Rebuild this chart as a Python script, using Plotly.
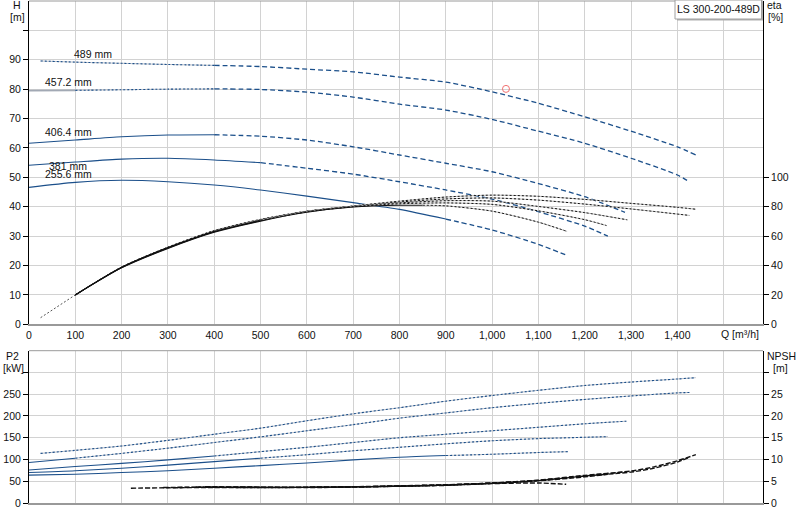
import plotly.graph_objects as go

# ---------------- data ----------------
# Head curves Q [m3/h] -> H [m]
Q_h489 = [25, 100, 200, 300, 400, 500, 600, 700, 800, 900, 1000, 1100, 1200, 1300, 1400, 1440]
H_h489 = [89.6, 89.2, 88.8, 88.4, 88.1, 87.7, 86.8, 85.9, 84.1, 82.4, 79.1, 75.2, 70.6, 65.7, 60.4, 57.6]
Q_h457 = [0, 100, 200, 300, 400, 500, 600, 700, 800, 900, 1000, 1100, 1200, 1300, 1400, 1426]
H_h457 = [79.5, 79.6, 79.8, 80.0, 80.1, 79.9, 79.0, 77.3, 74.9, 72.9, 69.7, 65.7, 61.6, 56.5, 50.8, 48.5]
Q_h406 = [0, 100, 200, 300, 400, 500, 600, 700, 800, 900, 1000, 1100, 1200, 1287]
H_h406 = [61.6, 62.7, 63.8, 64.4, 64.5, 64.0, 62.7, 60.4, 57.6, 54.8, 51.9, 47.9, 43.4, 38.1]
Q_h381 = [0, 100, 200, 300, 400, 500, 600, 700, 800, 900, 1000, 1100, 1200, 1250]
H_h381 = [54.1, 55.2, 56.2, 56.5, 55.9, 55.0, 53.1, 51.1, 48.5, 45.7, 42.6, 38.3, 33.4, 30.0]
Q_h255 = [0, 100, 200, 300, 400, 500, 600, 700, 800, 900, 1000, 1100, 1164]
H_h255 = [46.6, 48.3, 49.0, 48.5, 47.4, 45.7, 43.6, 41.4, 39.1, 35.8, 32.1, 27.2, 23.3]
head_labels = ["489 mm", "457.2 mm", "406.4 mm", "381 mm", "255.6 mm"]

# Efficiency curves Q -> eta [%]
Q_eta_start = [25, 100]
eta_start = [4.5, 20]
Q_e489 = [100, 200, 300, 400, 500, 600, 700, 800, 900, 1000, 1100, 1200, 1300, 1400, 1440]
E_e489 = [20, 39.0, 52.5, 63.8, 71.4, 77.0, 80.5, 83.8, 86.6, 87.9, 87.1, 85.0, 82.3, 79.6, 78.3]
Q_e457 = [100, 200, 300, 400, 500, 600, 700, 800, 900, 1000, 1100, 1200, 1300, 1426]
E_e457 = [20, 38.9, 52.4, 63.6, 71.2, 76.9, 80.4, 83.2, 85.3, 86.0, 84.5, 81.8, 78.5, 74.1]
Q_e406 = [100, 200, 300, 400, 500, 600, 700, 800, 900, 1000, 1100, 1200, 1292]
E_e406 = [20, 38.8, 52.2, 63.3, 70.9, 76.7, 80.2, 82.6, 84.1, 83.8, 80.2, 76.0, 71.1]
Q_e381 = [100, 200, 300, 400, 500, 600, 700, 800, 900, 1000, 1100, 1200, 1247]
E_e381 = [20, 38.6, 51.9, 63.0, 70.6, 76.5, 80.0, 82.0, 82.6, 81.6, 77.2, 71.2, 67.2]
Q_e255 = [100, 200, 300, 400, 500, 600, 700, 800, 850, 900, 1000, 1100, 1162]
E_e255 = [20, 38.4, 51.6, 62.6, 70.2, 76.2, 79.8, 81.0, 81.0, 80.6, 77.0, 69.5, 63.2]

# Power curves Q -> P2 [kW]
Q_p489 = [25, 100, 200, 300, 400, 500, 600, 700, 800, 900, 1000, 1100, 1200, 1300, 1400, 1440]
P_p489 = [114, 121, 131, 144, 158, 172, 189, 205, 219, 234, 247, 259, 270, 278, 285, 288]
Q_p457 = [0, 100, 200, 300, 400, 500, 600, 700, 800, 900, 1000, 1100, 1200, 1300, 1400, 1426]
P_p457 = [93, 103, 114, 126, 139, 152, 166, 180, 195, 207, 219, 229, 238, 246, 253, 254]
Q_p406 = [0, 100, 200, 300, 400, 500, 600, 700, 800, 900, 1000, 1100, 1200, 1290]
P_p406 = [76, 84, 91, 99, 108, 118, 128, 139, 150, 158, 166, 174, 182, 188]
Q_p381 = [0, 100, 200, 300, 400, 500, 600, 700, 800, 900, 1000, 1100, 1200, 1250]
P_p381 = [70, 74, 80, 87, 95, 103, 111, 120, 128, 136, 143, 148, 151, 152.5]
Q_p255 = [0, 100, 200, 300, 400, 500, 600, 700, 800, 900, 1000, 1100, 1164]
P_p255 = [64, 66, 70, 74, 80, 86, 92, 99, 105, 109, 112, 116, 118]

# NPSH curves Q -> NPSH [m]
Q_n489 = [380, 500, 600, 700, 800, 900, 1000, 1100, 1200, 1300, 1350, 1400, 1440]
N_n489 = [3.75, 3.65, 3.65, 3.75, 3.95, 4.2, 4.6, 5.25, 6.35, 7.35, 8.3, 9.7, 11.1]
Q_n457 = [360, 500, 600, 700, 800, 900, 1000, 1100, 1200, 1300, 1350, 1400, 1426]
N_n457 = [3.7, 3.6, 3.6, 3.7, 3.9, 4.15, 4.55, 5.15, 6.2, 7.1, 8.0, 9.4, 10.5]
Q_n406 = [320, 400, 500, 600, 700, 800, 900, 1000, 1100, 1200, 1290]
N_n406 = [3.6, 3.65, 3.6, 3.6, 3.7, 3.9, 4.15, 4.6, 5.2, 6.2, 7.2]
Q_n381 = [290, 400, 500, 600, 700, 800, 900, 1000, 1100, 1200, 1250]
N_n381 = [3.55, 3.6, 3.55, 3.55, 3.65, 3.85, 4.1, 4.5, 5.1, 6.0, 6.6]
Q_n255 = [220, 300, 400, 500, 600, 700, 800, 900, 1000, 1100, 1160]
N_n255 = [3.4, 3.5, 3.55, 3.55, 3.6, 3.7, 3.85, 4.05, 4.45, 4.6, 4.3]

# Duty point
Q_duty = [1030]
H_duty = [80.1]

x_ticks = [0, 100, 200, 300, 400, 500, 600, 700, 800, 900, 1000, 1100, 1200, 1300, 1400, 1500]
x_ticktext = ["0", "100", "200", "300", "400", "500", "600", "700", "800", "900",
              "1,000", "1,100", "1,200", "1,300", "1,400", ""]
h_ticks = [0, 10, 20, 30, 40, 50, 60, 70, 80, 90, 100]
h_ticktext = ["0", "10", "20", "30", "40", "50", "60", "70", "80", "90", ""]
eta_ticks = [0, 20, 40, 60, 80, 100]
p_ticks = [0, 50, 100, 150, 200, 250, 300]
p_ticktext = ["0", "50", "100", "150", "200", "250", ""]
n_ticks = [0, 5, 10, 15, 20, 25, 30]
n_ticktext = ["0", "5", "10", "15", "20", "25", ""]

# ---------------- styling ----------------
BLUE = "#1b4f8a"
UNDER = "#bcc2cc"
GRID = "#d2d2d2"
FONT = "Liberation Sans, Arial, sans-serif"
FS = 10.5

W, H = 800, 520
ML, MR, MT, MB = 29, 37, 1, 17
PW, PH = W - ML - MR, H - MT - MB


def px2x(px):
    return (px - ML) / PW


def px2y(py):
    return (H - MB - py) / PH


fig = go.Figure()


def seg(q, v, lo, hi):
    pts = [(a, b) for a, b in zip(q, v) if lo <= a <= hi]
    return [p[0] for p in pts], [p[1] for p in pts]


def add(q, v, style, xa="x", ya="y", color=BLUE, width=1.1):
    common = dict(mode="lines", xaxis=xa, yaxis=ya, hoverinfo="skip", showlegend=False)
    if style == "solid":
        fig.add_trace(go.Scatter(x=q, y=v, line=dict(color=color, width=width, shape="spline",
                                                     smoothing=0.7), **common))
    elif style == "dash":
        fig.add_trace(go.Scatter(x=q, y=v, line=dict(color=color, width=width + 0.2, dash="5px,3px",
                                                     shape="spline", smoothing=0.7), **common))
    elif style == "dot":
        fig.add_trace(go.Scatter(x=q, y=v, line=dict(color=UNDER, width=1, shape="spline",
                                                     smoothing=0.7), **common))
        fig.add_trace(go.Scatter(x=q, y=v, line=dict(color=color, width=1.1, dash="2px,2px",
                                                     shape="spline", smoothing=0.7), **common))
    elif style == "eta":
        fig.add_trace(go.Scatter(x=q, y=v, line=dict(color="#b4b4b4", width=0.9, shape="spline",
                                                     smoothing=0.7), **common))
        fig.add_trace(go.Scatter(x=q, y=v, line=dict(color="#111111", width=1.0, dash="2px,2px",
                                                     shape="spline", smoothing=0.7), **common))
    elif style == "etasolid":
        fig.add_trace(go.Scatter(x=q, y=v, line=dict(color="#111111", width=1.1, shape="spline",
                                                     smoothing=0.7), **common))
    elif style == "npsh":
        fig.add_trace(go.Scatter(x=q, y=v, line=dict(color="#111111", width=1.4, dash="5px,2px",
                                                     shape="spline", smoothing=0.7), **common))


# head curves (segments: solid / dotted / dashed)
head_sets = [
    (Q_h489, H_h489, [("dot", 0, 400), ("dash", 400, 9999)]),
    (Q_h457, H_h457, [("solid", 0, 100), ("dot", 100, 400), ("dash", 400, 9999)]),
    (Q_h406, H_h406, [("solid", 0, 400), ("dash", 400, 9999)]),
    (Q_h381, H_h381, [("solid", 0, 500), ("dash", 500, 9999)]),
    (Q_h255, H_h255, [("solid", 0, 900), ("dash", 900, 9999)]),
]
for q, v, parts in head_sets:
    for st, lo, hi in parts:
        xs, ys = seg(q, v, lo, hi)
        first_gray = (st == "solid" and hi == 100)
        add(xs, ys, st, "x", "y", color=("#a2a9b4" if first_gray else BLUE),
            width=(1.8 if first_gray else 1.1))

# efficiency curves
fig.add_trace(go.Scatter(x=Q_eta_start, y=eta_start, mode="lines", xaxis="x", yaxis="y2",
                         line=dict(color="#555555", width=1, dash="2px,2px"),
                         hoverinfo="skip", showlegend=False))
eta_sets = [
    (Q_e489, E_e489, [("eta", 0, 9999)]),
    (Q_e457, E_e457, [("eta", 0, 9999)]),
    (Q_e406, E_e406, [("etasolid", 0, 400), ("eta", 400, 9999)]),
    (Q_e381, E_e381, [("etasolid", 0, 500), ("eta", 500, 9999)]),
    (Q_e255, E_e255, [("etasolid", 0, 850), ("eta", 850, 9999)]),
]
for q, v, parts in eta_sets:
    for st, lo, hi in parts:
        xs, ys = seg(q, v, lo, hi)
        add(xs, ys, st, "x", "y2")

# duty point
fig.add_trace(go.Scatter(x=Q_duty, y=H_duty, mode="markers", xaxis="x", yaxis="y",
                         marker=dict(symbol="circle-open", size=7, color="#f07070", line=dict(width=1)),
                         hoverinfo="skip", showlegend=False))

# power curves
p_sets = [
    (Q_p489, P_p489, [("dot", 0, 9999)]),
    (Q_p457, P_p457, [("solid", 0, 100), ("dot", 100, 9999)]),
    (Q_p406, P_p406, [("solid", 0, 400), ("dot", 400, 9999)]),
    (Q_p381, P_p381, [("solid", 0, 500), ("dot", 500, 9999)]),
    (Q_p255, P_p255, [("solid", 0, 900), ("dot", 900, 9999)]),
]
for q, v, parts in p_sets:
    for st, lo, hi in parts:
        xs, ys = seg(q, v, lo, hi)
        add(xs, ys, st, "x2", "y3")

# NPSH curves
for q, v in [(Q_n255, N_n255), (Q_n381, N_n381), (Q_n406, N_n406), (Q_n457, N_n457), (Q_n489, N_n489)]:
    add(q, v, "npsh", "x2", "y4")

tickfont = dict(family=FONT, size=FS, color="#111111")
top_dom = [px2y(324.3), 1.0]
bot_dom = [0.0, px2y(350.7)]

fig.update_layout(
    width=W, height=H,
    margin=dict(l=ML, r=MR, t=MT, b=MB),
    paper_bgcolor="white", plot_bgcolor="white",
    font=dict(family=FONT, size=FS, color="#111111"),
    showlegend=False,
    xaxis=dict(domain=[0, 1], anchor="y", range=[0, 1585], tickmode="array",
               tickvals=x_ticks, ticktext=x_ticktext, showgrid=True, gridcolor=GRID, gridwidth=1,
               zeroline=False, showline=True, linecolor="#999999", linewidth=2, ticks="",
               tickfont=tickfont, automargin=False),
    yaxis=dict(domain=top_dom, anchor="x", range=[0, 110], tickmode="array",
               tickvals=h_ticks, ticktext=h_ticktext, showgrid=True, gridcolor=GRID, gridwidth=1,
               zeroline=False, showline=True, linecolor="#000000", linewidth=1,
               ticks="outside", ticklen=5, tickcolor="#000000", tickfont=tickfont, automargin=False),
    yaxis2=dict(overlaying="y", side="right", anchor="x", range=[0, 220], tickmode="array",
                tickvals=eta_ticks, showgrid=False, zeroline=False, showline=True,
                linecolor="#000000", linewidth=1, ticks="outside", ticklen=5, tickcolor="#000000",
                tickfont=tickfont, automargin=False),
    xaxis2=dict(domain=[0, 1], anchor="y3", range=[0, 1585], tickmode="array",
                tickvals=x_ticks, showticklabels=False, showgrid=True, gridcolor=GRID, gridwidth=1,
                zeroline=False, showline=True, linecolor="#999999", linewidth=2, ticks="",
                automargin=False),
    yaxis3=dict(domain=bot_dom, anchor="x2", range=[0, 350], tickmode="array",
                tickvals=p_ticks, ticktext=p_ticktext, showgrid=True, gridcolor=GRID, gridwidth=1,
                zeroline=False, showline=True, linecolor="#000000", linewidth=1,
                ticks="outside", ticklen=5, tickcolor="#000000", tickfont=tickfont, automargin=False),
    yaxis4=dict(overlaying="y3", side="right", anchor="x2", range=[0, 35], tickmode="array",
                tickvals=n_ticks, ticktext=n_ticktext, showgrid=False, zeroline=False,
                showline=True, linecolor="#000000", linewidth=1, ticks="outside", ticklen=5,
                tickcolor="#000000", tickfont=tickfont, automargin=False),
)

# top border lines of both plots
for yy in [1.0, bot_dom[1]]:
    fig.add_shape(type="line", xref="paper", yref="paper", x0=0, x1=1, y0=yy, y1=yy,
                  line=dict(color="#9a9a9a", width=1))

# curve labels
label_pos = [(72, 54), (43, 82), (43, 132), (47, 166), (43, 174)]
for txt, (lx, ly) in zip(head_labels, label_pos):
    fig.add_annotation(text=txt, xref="paper", yref="paper", x=px2x(lx), y=px2y(ly),
                       xanchor="left", yanchor="middle", showarrow=False,
                       font=dict(family=FONT, size=FS, color="#111111"))

# axis titles
titles = [("H", 16.5, 5), ("[m]", 17.5, 17.5), ("eta", 774.5, 5), ("[%]", 775, 17.5),
          ("Q [m³/h]", 739.5, 334), ("P2", 12, 355.5), ("[kW]", 13.5, 367.5),
          ("NPSH", 781, 356), ("[m]", 780, 367.5)]
for txt, tx, ty in titles:
    fig.add_annotation(text=txt, xref="paper", yref="paper", x=px2x(tx), y=px2y(ty),
                       xanchor="center", yanchor="middle", showarrow=False,
                       font=dict(family=FONT, size=FS, color="#111111"))

# product legend box
fig.add_shape(type="rect", xref="paper", yref="paper", x0=px2x(677), x1=px2x(763),
              y0=px2y(20.5), y1=px2y(1.5), line=dict(width=0), fillcolor="#b0b0b0")
fig.add_shape(type="rect", xref="paper", yref="paper", x0=px2x(675), x1=px2x(761.5),
              y0=px2y(19), y1=px2y(0), line=dict(color="#a0a0a0", width=1), fillcolor="white")
fig.add_annotation(text="LS 300-200-489D", xref="paper", yref="paper", x=px2x(718), y=px2y(9.5),
                   xanchor="center", yanchor="middle", showarrow=False,
                   font=dict(family=FONT, size=FS, color="#111111"))

fig.write_html("out.html", config={"displayModeBar": False},
               post_script="document.body.style.margin='0px';document.body.style.padding='0px';")
